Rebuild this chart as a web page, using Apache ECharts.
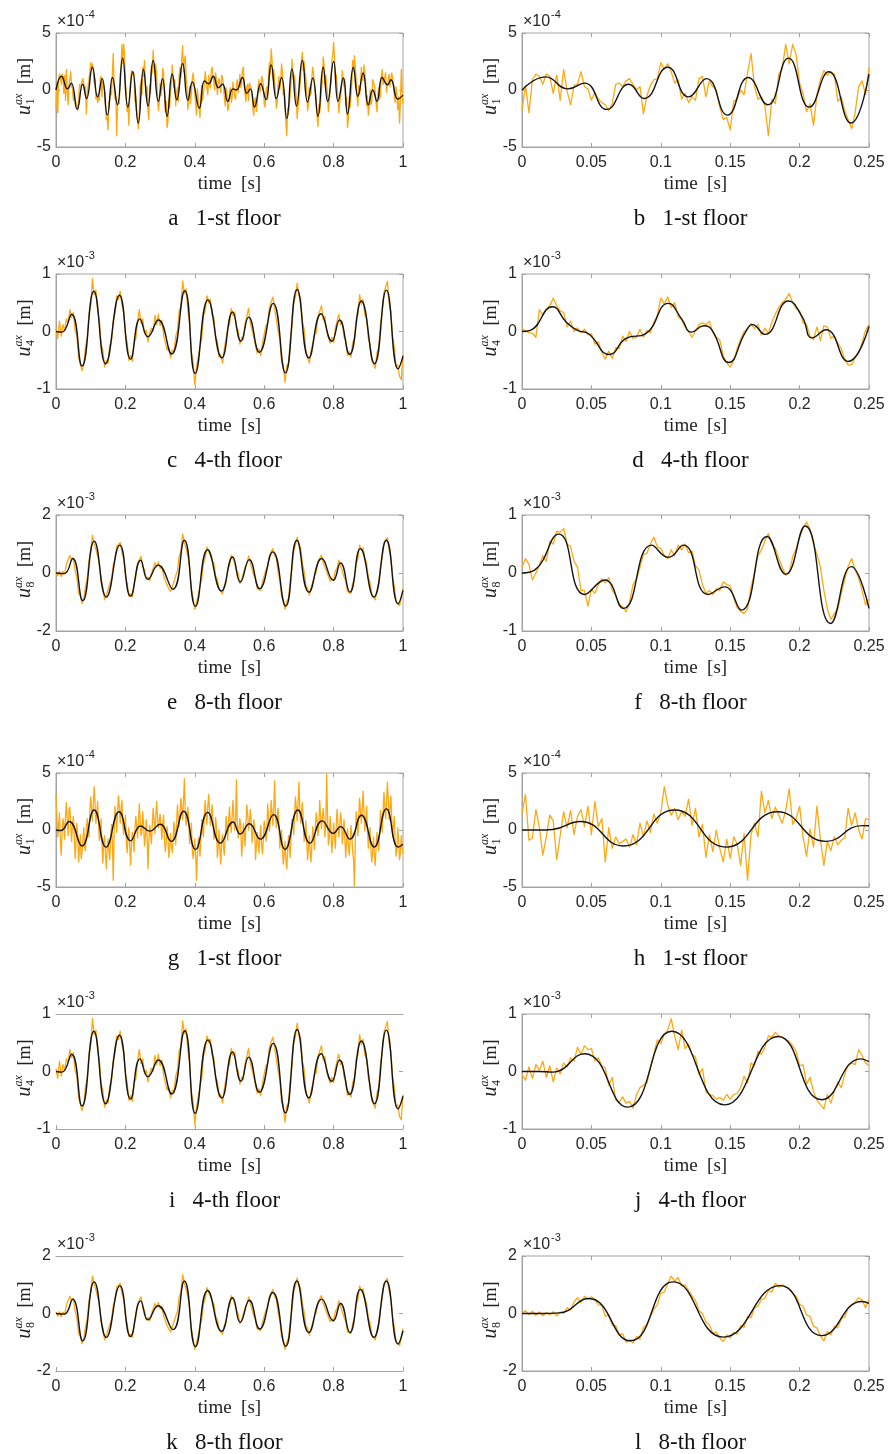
<!DOCTYPE html>
<html>
<head>
<meta charset="utf-8">
<script src="https://cdn.jsdelivr.net/npm/echarts@6.0.0/dist/echarts.min.js"></script>
<style>
  html, body { margin: 0; padding: 0; background: #ffffff; }
  #chart { width: 889px; height: 1454px; }
</style>
</head>
<body>
<div id="chart"></div>
<script>
// Sampling steps of the recorded (orange) signals, in seconds
const DT_FINE = 0.0025;
const DT_COARSE = 0.005;

// ---- Panel a: 1st floor, 1 s (units of 1e-4 m), step DT_FINE ----
const aRaw = [
  -1.8, 0.4, -2.0, 0.9, 1.4, 1.2, 0.5, 1.4, 1.2, -0.3,
  1.3, -0.9, 1.8, -0.1, -1.3, 0.4, 0.5, 1.6, 0.3, 0.1,
  -0.9, -0.2, -0.8, -1.1, -1.3, -1.8, -1.2, 0.5, 0.6, 0.3,
  0.8, 1.0, 0.5, 0.0, 0.3, -2.1, -0.5, 0.4, 0.9, 1.0,
  2.4, 1.8, 2.3, 1.6, 0.6, 0.9, -0.8, -0.3, -1.1, -0.6,
  -0.9, 1.0, 1.2, -0.6, 0.8, 0.3, 0.0, -1.5, -2.6, -2.4,
  -3.5, -1.0, -0.8, 0.0, -0.4, 1.5, 3.2, 0.3, -0.8, -0.6,
  -4.0, -1.4, -0.8, -1.2, 1.4, 1.9, 4.0, 2.3, 4.0, 3.1,
  0.6, -0.3, -1.9, -1.2, -3.1, -0.4, 0.9, 1.7, 1.3, 1.6,
  1.4, -1.0, -0.6, -1.8, -2.6, -3.4, -2.0, 0.3, 0.8, -0.4,
  2.0, 1.2, 2.6, 0.7, -0.5, 0.3, -1.9, -2.6, 0.4, -0.3,
  2.1, 1.5, 3.5, 2.0, 1.4, 2.3, 1.2, -0.6, -1.8, -1.2,
  0.6, -0.5, 0.2, 1.9, 1.5, -0.4, -1.9, -1.0, -3.3, -2.8,
  -0.8, -1.6, -0.2, 0.6, 2.2, 1.0, 0.2, 0.9, -1.4, -0.2,
  0.2, -1.0, 1.3, 2.0, 1.1, 2.8, 3.9, 1.6, 2.6, 3.0,
  1.2, 0.2, -1.7, -1.0, 0.3, -1.2, -0.4, 0.9, 1.5, 0.8,
  -0.3, -1.3, -2.2, 0.1, -1.0, -1.4, -2.4, -0.6, 0.4, -0.9,
  -0.3, 0.5, 1.6, 0.9, 0.1, -0.4, 1.3, 0.5, 0.2, 1.7,
  2.0, 1.2, 0.6, 0.0, 1.5, 0.9, -0.4, 0.8, 1.0, 0.3,
  -0.2, 1.3, 1.1, 0.5, -0.6, -1.4, 0.2, -0.2, -1.8, -1.6,
  -0.2, 0.2, -1.1, -0.7, 0.7, 0.6, -0.6, -0.8, 0.5, 0.9,
  -0.2, 0.4, 1.4, 0.2, 0.6, 1.8, 2.0, 0.3, -0.4, -1.0,
  0.3, 0.5, -0.9, 0.6, 0.7, 0.2, -0.3, -1.6, -2.2, -0.9,
  -0.7, -1.9, -1.3, 0.3, 0.9, -0.2, 0.1, 1.2, 1.0, 0.4,
  -1.2, -1.5, -0.2, 0.3, -0.8, 1.2, 2.4, 1.4, 3.6, 2.7,
  1.0, 1.8, 0.8, -0.2, -1.6, -1.0, 0.4, 1.2, 0.1, 0.8,
  2.3, 1.6, -0.4, 0.0, -1.0, -2.9, -4.0, -1.6, -2.2, -1.3,
  -0.3, 0.6, 2.7, 1.5, 0.7, 1.3, 0.2, -0.7, -2.5, -1.6,
  -0.9, 0.2, 1.0, 2.6, 3.3, 1.7, 2.5, 1.5, 1.1, -0.2,
  -1.8, -1.3, 0.2, -0.5, -0.3, 1.2, 2.0, 1.3, 0.5, -0.3,
  -0.9, -2.4, -3.2, -1.3, -2.0, -1.1, 0.1, 0.8, 2.9, 2.2,
  0.5, 1.3, 0.4, -0.4, -1.9, -1.0, -0.2, 0.8, 2.6, 3.1,
  4.2, 2.8, 0.9, 1.4, 0.5, -0.8, -2.0, -1.2, -0.6, 0.2,
  1.7, 0.9, 0.3, 1.0, -1.4, -0.7, -3.3, -2.6, -0.6, -1.5,
  -0.5, 0.6, 2.6, 1.6, 3.0, 2.0, 0.9, -0.6, -1.4, 0.4,
  -0.4, 0.1, 2.0, 1.0, 0.8, 2.2, 1.5, 0.6, -1.4, -0.5,
  -2.2, -1.6, 0.0, -1.3, -1.1, 0.9, 0.8, 0.4, -0.2, -1.2,
  -1.9, -0.4, 0.2, -0.8, -0.5, 1.2, 1.8, 0.5, 0.4, 1.1,
  1.5, -0.2, -0.3, 0.9, 1.4, 0.3, 0.4, 1.5, 1.6, 0.6,
  -0.5, -1.1, 0.3, -0.4, -1.7, -0.6, -2.9, -1.3, 1.8, -0.2,
  -1.2
];
const aFitT = [0, 0.016, 0.033, 0.044, 0.061, 0.077, 0.088, 0.105, 0.12, 0.133,
  0.148, 0.163, 0.177, 0.192, 0.207, 0.221, 0.237, 0.252, 0.265, 0.28,
  0.295, 0.307, 0.32, 0.335, 0.348, 0.365, 0.38, 0.393, 0.413, 0.428,
  0.44, 0.453, 0.468, 0.48, 0.495, 0.51, 0.52, 0.537, 0.55, 0.56,
  0.572, 0.59, 0.605, 0.62, 0.635, 0.65, 0.665, 0.68, 0.693, 0.71,
  0.725, 0.74, 0.755, 0.77, 0.783, 0.8, 0.813, 0.828, 0.84, 0.857,
  0.87, 0.885, 0.9, 0.913, 0.925, 0.94, 0.955, 0.965, 0.985, 1.0];
const aFitV = [0, 1.2, 0.1, 0.6, -1.7, 0.5, -0.75, 2.0, -0.6, 1.0,
  -2.2, 1.1, -1.3, 2.8, -1.5, 1.6, -2.9, 1.8, -1.4, 2.6,
  -1.0, 1.0, -2.3, 1.4, -0.85, 2.3, -0.9, 0.7, -1.6, 0.8,
  0.55, 1.2, 0.2, 0.5, -1.0, 0.1, 0.0, 1.1, -0.3, 0.1,
  -1.5, 0.55, -0.85, 2.2, -0.75, 1.1, -2.5, 1.85, -1.4, 2.6,
  -1.05, 1.05, -2.3, 2.0, -1.0, 2.5, -1.0, 1.05, -2.1, 2.0,
  -0.55, 1.5, -1.3, 0.0, -1.0, 1.1, 0.45, 0.9, -0.8, -0.45];

// ---- Panel b: 1st floor, first 0.25 s (units of 1e-4 m), step DT_FINE ----
const bRaw = [
  -1.8, 0.4, -2.0, 0.9, 1.4, 1.2, 0.5, 1.4, 1.2, -0.3,
  1.3, -0.9, 1.8, -0.1, -1.3, 0.4, 0.5, 1.6, 0.3, 0.1,
  -0.9, -0.2, -0.8, -1.1, -1.3, -1.8, -1.2, 0.5, 0.6, 0.3,
  0.8, 1.0, 0.5, 0.0, 0.3, -2.1, -0.5, 0.4, 0.9, 1.0,
  2.4, 1.8, 2.3, 1.6, 0.6, 0.9, -0.8, -0.3, -1.1, -0.6,
  -0.9, 1.0, 1.2, -0.6, 0.8, 0.3, 0.0, -1.5, -2.6, -2.4,
  -3.5, -1.0, -0.8, 0.0, -0.4, 1.5, 3.2, 0.3, -0.8, -0.6,
  -1.4, -4.0, -0.8, -1.2, 1.4, 1.9, 4.0, 2.3, 4.0, 3.1,
  0.6, -0.3, -1.9, -1.2, -3.1, -0.4, 0.9, 1.7, 1.3, 1.6,
  1.4, -1.0, -0.6, -1.8, -2.6, -3.4, -2.0, 0.3, 0.8, -0.4,
  2.0
];
const bFitT = [0, 0.017, 0.033, 0.045, 0.061, 0.077, 0.088, 0.105, 0.12, 0.133,
  0.148, 0.163, 0.177, 0.192, 0.207, 0.221, 0.237, 0.25];
const bFitV = [0, 1.15, 0.1, 0.6, -1.7, 0.5, -0.75, 2.0, -0.6, 1.0,
  -2.2, 1.1, -1.3, 2.8, -1.5, 1.6, -2.9, 1.4];

// ---- Panels c and i: 4th floor, 1 s (units of 1e-3 m), step DT_COARSE ----
const cRaw = [
  0.05, -0.12, 0.18, -0.08, 0.12, 0.02, 0.22, 0.16, 0.38, 0.24,
  0.33, 0.02, -0.08, -0.45, -0.48, -0.68, -0.58, -0.26, -0.12, 0.31,
  0.44, 0.92, 0.64, 0.72, 0.36, 0.2, -0.22, -0.33, -0.62, -0.5,
  -0.55, -0.24, -0.16, 0.2, 0.3, 0.62, 0.56, 0.7, 0.46, 0.36,
  -0.04, -0.18, -0.5, -0.42, -0.52, -0.2, -0.13, 0.18, 0.38, 0.14,
  0.22, -0.04, 0.02, -0.18, -0.02, 0.06, 0.0, 0.28, 0.12, 0.3,
  0.1, 0.2, -0.06, -0.05, -0.32, -0.27, -0.46, -0.32, -0.36, -0.08,
  0.02, 0.36, 0.44, 0.88, 0.66, 0.74, 0.36, 0.14, -0.36, -0.52,
  -0.93, -0.62, -0.64, -0.26, -0.13, 0.27, 0.36, 0.62, 0.5, 0.56,
  0.28, 0.24, -0.1, -0.16, -0.44, -0.4, -0.55, -0.3, -0.27, 0.06,
  0.12, 0.4, 0.28, 0.34, 0.06, 0.02, -0.22, -0.1, -0.14, 0.14,
  0.16, 0.4, 0.15, 0.17, -0.1, -0.13, -0.38, -0.3, -0.42, -0.2,
  -0.19, 0.1, 0.14, 0.42, 0.39, 0.6, 0.4, 0.37, 0.01, -0.14,
  -0.52, -0.58, -0.88, -0.6, -0.56, -0.14, 0.08, 0.5, 0.6, 0.84,
  0.62, 0.58, 0.18, 0.04, -0.34, -0.36, -0.55, -0.34, -0.36, -0.06,
  -0.02, 0.26, 0.24, 0.45, 0.2, 0.26, 0.0, 0.01, -0.2, -0.1,
  -0.19, 0.06, 0.08, 0.3, 0.12, 0.17, -0.1, -0.15, -0.42, -0.35,
  -0.45, -0.19, -0.12, 0.22, 0.29, 0.64, 0.47, 0.56, 0.29, 0.23,
  -0.12, -0.22, -0.51, -0.48, -0.64, -0.37, -0.28, 0.14, 0.31, 0.68,
  0.66, 0.87, 0.48, 0.36, -0.09, -0.27, -0.62, -0.58, -0.78, -0.84,
  -0.4
];
const cFitT = [0, 0.017, 0.045, 0.075, 0.109, 0.143, 0.183, 0.215, 0.242, 0.265,
  0.295, 0.333, 0.371, 0.401, 0.438, 0.478, 0.509, 0.533, 0.555, 0.586,
  0.626, 0.661, 0.695, 0.729, 0.764, 0.795, 0.817, 0.846, 0.88, 0.918,
  0.952, 0.986, 1.0];
const cFitV = [0, -0.01, 0.3, -0.6, 0.7, -0.56, 0.63, -0.48, 0.22, -0.09,
  0.2, -0.39, 0.71, -0.73, 0.55, -0.46, 0.34, -0.17, 0.25, -0.36,
  0.49, -0.72, 0.73, -0.46, 0.31, -0.17, 0.2, -0.4, 0.53, -0.56,
  0.72, -0.65, -0.43];

// ---- Panel d: 4th floor, 0.25 s (units of 1e-3 m), step DT_FINE ----
const dRaw = [
  0.05, 0.01, -0.02, -0.03, -0.1, 0.38, 0.28, 0.38, 0.45, 0.58,
  0.45, 0.36, 0.33, 0.08, 0.18, 0.0, 0.06, -0.02, 0.04, -0.06,
  -0.04, -0.22, -0.18, -0.36, -0.48, -0.34, -0.47, -0.28, -0.3, -0.08,
  -0.17, 0.0, -0.12, -0.1, 0.04, -0.1, 0.02, -0.02, 0.16, 0.28,
  0.58, 0.48, 0.6, 0.42, 0.5, 0.26, 0.2, 0.08, 0.0, -0.1,
  0.0, 0.12, 0.15, 0.12, 0.18, -0.02, -0.1, -0.15, -0.42, -0.55,
  -0.62, -0.5, -0.3, -0.14, 0.0, 0.04, 0.14, 0.05, 0.12, -0.06,
  0.06, -0.04, 0.16, 0.3, 0.42, 0.5, 0.56, 0.66, 0.5, 0.4,
  0.36, 0.15, 0.12, -0.08, -0.14, 0.08, -0.16, 0.1, 0.08, -0.12,
  -0.08, -0.2, -0.3, -0.48, -0.58, -0.58, -0.45, -0.38, -0.2, 0.02,
  0.12
];
const dFitT = [0, 0.006, 0.022, 0.032, 0.04, 0.048, 0.063, 0.075, 0.089, 0.1055,
  0.115, 0.122, 0.131, 0.137, 0.149, 0.161, 0.166, 0.175, 0.192, 0.202,
  0.209, 0.219, 0.235, 0.25];
const dFitV = [0, 0.02, 0.43, 0.16, 0.02, -0.04, -0.4, -0.12, -0.04, 0.49,
  0.22, -0.01, 0.1, 0.02, -0.54, -0.01, 0.12, -0.05, 0.53, 0.25,
  -0.11, 0.03, -0.52, 0.09];

// ---- Panels e and k: 8th floor, 1 s (units of 1e-3 m), step DT_COARSE ----
const eRaw = [
  0.05, -0.1, 0.06, -0.12, 0.05, -0.02, 0.3, 0.28, 0.6, 0.44,
  0.52, 0.08, -0.15, -0.68, -0.78, -1.05, -0.9, -0.46, -0.18, 0.44,
  0.7, 1.3, 1.04, 1.08, 0.58, 0.3, -0.3, -0.5, -0.92, -0.76,
  -0.8, -0.38, -0.2, 0.28, 0.46, 0.92, 0.88, 1.05, 0.7, 0.5,
  -0.08, -0.34, -0.8, -0.72, -0.82, -0.36, -0.14, 0.33, 0.36, 0.58,
  0.2, 0.12, -0.22, -0.14, -0.26, -0.02, -0.04, 0.35, 0.2, 0.38,
  0.16, 0.24, -0.08, -0.1, -0.42, -0.4, -0.64, -0.48, -0.5, -0.1,
  0.08, 0.58, 0.74, 1.35, 1.06, 1.12, 0.6, 0.2, -0.54, -0.86,
  -1.25, -1.02, -0.96, -0.46, -0.2, 0.34, 0.52, 0.9, 0.74, 0.8,
  0.44, 0.33, -0.1, -0.2, -0.56, -0.54, -0.72, -0.42, -0.32, 0.12,
  0.26, 0.62, 0.5, 0.5, 0.12, -0.02, -0.36, -0.22, -0.2, 0.2,
  0.32, 0.58, 0.34, 0.3, -0.08, -0.18, -0.54, -0.48, -0.6, -0.32,
  -0.26, 0.12, 0.22, 0.6, 0.6, 0.84, 0.6, 0.52, 0.02, -0.26,
  -0.8, -0.94, -1.25, -1.0, -0.86, -0.25, 0.14, 0.76, 0.95, 1.24,
  0.98, 0.86, 0.34, 0.06, -0.44, -0.52, -0.76, -0.52, -0.48, -0.08,
  0.04, 0.4, 0.42, 0.62, 0.36, 0.36, 0.04, 0.0, -0.28, -0.18,
  -0.26, 0.08, 0.16, 0.44, 0.26, 0.26, -0.14, -0.27, -0.64, -0.58,
  -0.7, -0.35, -0.2, 0.3, 0.48, 0.96, 0.78, 0.86, 0.5, 0.36,
  -0.14, -0.32, -0.74, -0.74, -0.92, -0.58, -0.36, 0.22, 0.52, 1.04,
  1.05, 1.22, 0.78, 0.52, -0.14, -0.46, -0.98, -1.0, -1.12, -0.86,
  -0.52
];
const eFitT = [0, 0.024, 0.048, 0.077, 0.11, 0.145, 0.184, 0.215, 0.244, 0.265,
  0.294, 0.337, 0.37, 0.402, 0.437, 0.477, 0.509, 0.531, 0.557, 0.587,
  0.625, 0.662, 0.694, 0.729, 0.766, 0.799, 0.82, 0.847, 0.877, 0.916,
  0.952, 0.986, 1.0];
const eFitV = [0, -0.02, 0.5, -0.95, 1.1, -0.83, 0.96, -0.8, 0.44, -0.22,
  0.27, -0.56, 1.13, -1.15, 0.8, -0.62, 0.55, -0.31, 0.46, -0.54,
  0.73, -1.14, 1.13, -0.66, 0.5, -0.25, 0.35, -0.66, 0.84, -0.83,
  1.13, -1.06, -0.6];

// ---- Panel f: 8th floor, 0.25 s (units of 1e-3 m), step DT_FINE ----
const fRaw = [
  0.1, 0.25, 0.15, -0.12, 0.0, 0.12, 0.3, 0.2, 0.55, 0.5,
  0.72, 0.7, 0.77, 0.5, 0.45, 0.2, 0.1, -0.3, -0.3, -0.57,
  -0.28, -0.35, -0.2, -0.1, -0.17, -0.08, -0.3, -0.38, -0.55, -0.58,
  -0.67, -0.5, -0.2, -0.1, 0.1, 0.32, 0.34, 0.5, 0.62, 0.45,
  0.42, 0.3, 0.25, 0.4, 0.3, 0.48, 0.4, 0.5, 0.35, 0.38,
  0.12, 0.05, -0.2, -0.35, -0.3, -0.37, -0.27, -0.3, -0.15, -0.2,
  -0.22, -0.42, -0.6, -0.66, -0.7, -0.62, -0.25, 0.0, 0.3, 0.4,
  0.55, 0.68, 0.5, 0.42, 0.25, 0.1, -0.04, 0.0, 0.28, 0.42,
  0.62, 0.78, 0.88, 0.75, 0.5, 0.32, 0.1, -0.3, -0.62, -0.8,
  -0.7, -0.62, -0.35, -0.12, 0.12, 0.25, 0.05, -0.08, -0.3, -0.55,
  -0.45
];
const fFitT = [0, 0.009, 0.0265, 0.045, 0.0597, 0.073, 0.0934, 0.1055, 0.1163, 0.134,
  0.146, 0.158, 0.1765, 0.19, 0.204, 0.2223, 0.2372, 0.25];
const fFitV = [0, 0.05, 0.67, -0.37, -0.12, -0.61, 0.48, 0.27, 0.48, -0.37,
  -0.24, -0.64, 0.63, -0.02, 0.81, -0.87, 0.11, -0.61];

// ---- Panel g: 1st floor, 1 s (units of 1e-4 m), step DT_FINE ----
const gRaw = [
  3.1, 1.2, -0.6, 0.4, 1.5, -0.9, -2.2, -0.3, 1.0, 0.5,
  -0.8, 1.3, 2.4, 0.9, -0.5, 1.8, 2.0, 0.3, -1.0, 0.5,
  1.2, -0.5, -2.5, -1.2, 0.6, -0.4, -2.8, -1.6, -0.4, -2.5,
  -2.0, -0.9, 0.2, -1.5, -1.8, 0.2, 1.0, -0.2, -0.6, 1.6,
  2.9, 1.9, 0.8, 2.2, 3.8, 2.4, 0.6, 1.5, 2.5, 0.6,
  -0.9, -0.5, 1.0, -1.3, -2.9, -1.0, -0.5, -2.1, -3.4, -1.6,
  -0.8, -1.9, -2.6, -0.8, 0.5, -1.1, -4.4, -0.4, 2.1, 1.0,
  -0.2, 1.7, 3.0, 2.0, 0.6, 1.9, 2.6, 0.4, -0.4, 0.5,
  1.3, -0.9, -2.0, -0.6, 0.2, -1.5, -3.1, -1.2, -0.2, -0.8,
  -1.9, 0.1, 1.2, 0.3, -0.7, 0.6, 2.3, 1.0, -0.5, -0.2,
  1.6, 0.5, -1.4, -0.6, 0.9, -0.3, -3.4, -1.1, 0.4, -0.4,
  -1.2, 0.5, 1.9, 0.9, -0.3, -0.2, 2.5, 1.1, 0.2, 0.8,
  1.4, 0.4, -0.8, 0.5, 1.3, -0.6, -1.9, -1.1, 0.3, -0.5,
  -2.4, -1.7, -0.3, -1.3, -2.0, -0.9, 0.7, -0.2, -1.3, 0.6,
  2.2, 0.9, 0.3, 1.6, 2.8, 1.9, 0.9, 2.6, 4.5, 1.7,
  0.4, 1.4, 2.0, 0.9, -1.2, -0.4, 0.6, -1.6, -2.5, -1.9,
  -0.8, -2.3, -4.4, -2.0, -0.7, -1.6, -2.3, -0.9, 0.9, -0.1,
  -0.6, 1.4, 2.6, 1.2, 0.5, 2.1, 3.1, 1.8, 0.4, 1.3,
  2.2, 0.9, -0.8, -0.4, 1.1, 0.3, -2.4, -1.5, 0.0, -1.8,
  -3.0, -0.9, -0.4, -1.4, -2.2, -0.7, 1.2, 0.4, -0.9, 0.9,
  2.0, 0.5, -0.2, 1.2, 2.6, 1.0, 0.0, 0.8, 4.4, 0.6,
  -0.7, -0.8, 1.0, 0.2, -2.3, -1.2, 0.6, -0.3, -1.4, 0.7,
  2.2, 1.3, 0.0, 0.6, 1.8, 0.8, -1.1, -0.2, 0.9, 0.3,
  -2.6, -1.4, -0.2, -1.1, -2.0, -0.6, 0.4, -1.3, -2.1, -0.8,
  0.8, 0.2, -1.0, -0.3, 2.3, 1.1, -0.1, 0.7, 2.6, 1.6,
  0.4, 1.9, 4.3, 1.3, 0.2, 1.2, 1.9, 0.5, -1.6, -0.7,
  0.0, -1.6, -3.0, -2.2, -1.0, -2.6, -3.4, -1.9, -0.5, -1.5,
  -2.4, -0.6, 0.9, 0.4, -0.4, 1.4, 2.9, 2.0, 0.8, 2.4,
  4.2, 1.9, 0.6, 1.6, 2.4, 0.9, -1.0, -0.4, 0.8, -0.9,
  -2.6, -1.5, -0.5, -1.9, -2.8, -1.2, 0.3, -0.8, -1.7, 0.3,
  1.5, 0.8, -0.5, 0.4, 2.6, 1.2, 0.1, 1.0, 1.9, 0.9,
  -0.6, 0.5, 4.9, 1.2, -1.3, -0.6, 1.2, -0.2, -2.0, -0.9,
  0.6, -0.5, -1.6, 0.4, 1.8, 0.6, -0.6, 0.1, 1.5, 0.9,
  -1.2, -0.3, 0.9, -0.8, -2.4, -1.0, 0.1, -1.3, -2.2, -1.1,
  0.4, -0.4, -1.9, -2.6, -4.9, -1.0, 1.6, 0.6, -0.5, 1.4,
  2.8, 1.6, 0.6, 1.9, 3.4, 1.5, -0.1, 0.9, 2.1, 0.4,
  -1.6, -0.9, 0.2, -1.6, -2.8, -1.9, -0.6, -2.2, -3.1, -1.4,
  -0.2, -1.1, -1.8, -0.4, 1.7, 0.9, -0.2, 1.5, 3.3, 2.1,
  1.0, 2.4, 4.2, 2.6, 0.9, 1.9, 3.0, 1.1, -0.6, 0.4,
  1.2, -1.1, -2.3, -1.7, 0.2, -1.0, -2.6, -2.0, -0.5, -1.6,
  -2.1
];
const gFitT = [0, 0.014, 0.038, 0.075, 0.11, 0.144, 0.182, 0.215, 0.244, 0.27,
  0.3, 0.332, 0.368, 0.402, 0.437, 0.474, 0.51, 0.531, 0.557, 0.589,
  0.627, 0.66, 0.697, 0.732, 0.767, 0.799, 0.82, 0.847, 0.88, 0.917,
  0.952, 0.986, 1.0];
const gFitV = [0, -0.05, 0.75, -1.4, 1.75, -1.5, 1.6, -0.95, 0.35, -0.1,
  0.5, -1.0, 1.65, -1.7, 1.55, -1.15, 0.7, -0.35, 0.55, -0.8,
  1.35, -1.7, 1.75, -1.15, 0.8, -0.3, 0.3, -0.8, 1.3, -1.5,
  1.85, -1.5, -1.25];

// ---- Panel h: 1st floor, 0.25 s (units of 1e-4 m), step DT_FINE ----
const hRaw = [
  1.5, 3.1, -0.9, -0.7, 1.8, 0.2, -2.2, -0.6, 1.3, 0.8,
  -2.6, -0.5, 1.6, 0.2, 1.7, -0.4, 1.2, 1.8, 0.3, 2.1,
  -0.4, 2.5, 0.3, 1.0, -2.8, 0.2, -1.6, -0.6, -1.2, -1.0,
  -0.8, -1.5, -0.4, -1.3, 0.6, -0.6, 0.8, -0.2, 1.4, 0.6,
  1.5, 3.8, 2.2, 1.3, 1.9, 0.9, 1.6, 1.2, 2.7, 0.4,
  1.9, -0.6, 0.5, -2.4, -0.4, -1.9, 0.0, -1.6, -2.8, -0.8,
  -2.5, -0.6, -1.2, -3.1, -0.3, -4.4, -0.4, 0.6, -0.6, 3.4,
  1.5, 2.6, 1.0, 2.0, 1.3, 0.6, 1.7, 3.6, 0.5, 1.0,
  2.1, -0.6, -2.3, 0.1, -1.5, 2.1, -0.8, -3.1, -1.0, -1.8,
  -0.6, -1.3, -0.9, -0.7, 1.9, 0.4, 1.5, 0.0, -0.8, 1.0,
  0.9
];
const hFitT = [0, 0.012, 0.022, 0.042, 0.073, 0.11, 0.147, 0.184, 0.219, 0.245, 0.25];
const hFitV = [0, 0, 0.05, 0.75, -1.4, 1.75, -1.5, 1.6, -1.0, 0.38, 0.37];

// ---- Panel j: 4th floor, 0.25 s (units of 1e-3 m), step DT_FINE ----
const jRaw = [
  -0.05, -0.15, 0.08, -0.12, 0.12, 0.02, 0.18, -0.1, 0.1, -0.18,
  0.06, -0.04, 0.15, 0.08, 0.24, 0.18, 0.42, 0.3, 0.45, 0.38,
  0.4, 0.18, 0.24, 0.1, 0.06, -0.24, -0.1, -0.5, -0.54, -0.44,
  -0.55, -0.52, -0.64, -0.4, -0.28, -0.24, -0.2, 0.05, 0.3, 0.55,
  0.48, 0.65, 0.72, 0.92, 0.62, 0.38, 0.72, 0.4, 0.48, 0.3,
  0.25, -0.05, 0.05, -0.35, -0.4, -0.42, -0.48, -0.45, -0.5, -0.4,
  -0.48, -0.4, -0.38, -0.28, -0.08, -0.2, 0.15, 0.1, 0.35, 0.3,
  0.42, 0.62, 0.6, 0.68, 0.62, 0.6, 0.55, 0.52, 0.45, 0.35,
  0.1, 0.12, -0.22, -0.1, -0.35, -0.5, -0.58, -0.65, -0.4, -0.55,
  -0.35, -0.18, -0.28, -0.05, 0.12, 0.15, 0.12, 0.38, 0.28, 0.15,
  0.1
];
const jFitT = [0, 0.012, 0.022, 0.045, 0.076, 0.108, 0.146, 0.1845, 0.216, 0.244, 0.25];
const jFitV = [0, 0, -0.01, 0.31, -0.62, 0.7, -0.58, 0.61, -0.49, 0.22, 0.17];

// ---- Panel l: 8th floor, 0.25 s (units of 1e-3 m), step DT_FINE ----
const lRaw = [
  0.02, 0.1, -0.04, 0.08, -0.06, 0.05, -0.08, 0.04, -0.04, 0.06,
  -0.08, 0.05, 0.0, 0.2, 0.12, 0.4, 0.55, 0.38, 0.6, 0.5,
  0.58, 0.5, 0.3, 0.28, -0.1, -0.05, -0.4, -0.42, -0.75, -0.7,
  -1.0, -0.92, -1.02, -0.8, -0.9, -0.48, -0.4, -0.1, 0.15, 0.3,
  0.7, 0.75, 1.05, 1.3, 1.12, 1.25, 0.95, 1.0, 0.8, 0.62,
  0.45, 0.1, 0.0, -0.3, -0.38, -0.7, -0.65, -0.85, -0.98, -0.75,
  -0.85, -0.65, -0.72, -0.42, -0.48, -0.1, -0.15, 0.2, 0.25, 0.5,
  0.52, 0.8, 0.75, 1.05, 0.92, 1.0, 0.92, 0.88, 0.7, 0.6,
  0.32, 0.25, -0.05, -0.1, -0.45, -0.5, -0.78, -0.95, -0.62, -0.75,
  -0.45, -0.5, -0.18, -0.12, 0.2, 0.3, 0.4, 0.55, 0.48, 0.2,
  0.5
];
const lFitT = [0, 0.015, 0.027, 0.048, 0.078, 0.109, 0.145, 0.186, 0.216, 0.245, 0.25];
const lFitV = [0, 0, 0.02, 0.52, -0.95, 1.1, -0.82, 0.97, -0.77, 0.42, 0.35];

// Panel descriptions: tag, caption, data, time span, symmetric y limit, exponent, floor index
const PANELS = [
  { tag: 'a', floor: '1-st floor', raw: aRaw, dt: DT_FINE,   fitT: aFitT, fitV: aFitV, span: 1,    lim: 5, exp: '-4', sub: '1' },
  { tag: 'b', floor: '1-st floor', raw: bRaw, dt: DT_FINE,   fitT: bFitT, fitV: bFitV, span: 0.25, lim: 5, exp: '-4', sub: '1' },
  { tag: 'c', floor: '4-th floor', raw: cRaw, dt: DT_COARSE, fitT: cFitT, fitV: cFitV, span: 1,    lim: 1, exp: '-3', sub: '4' },
  { tag: 'd', floor: '4-th floor', raw: dRaw, dt: DT_FINE,   fitT: dFitT, fitV: dFitV, span: 0.25, lim: 1, exp: '-3', sub: '4' },
  { tag: 'e', floor: '8-th floor', raw: eRaw, dt: DT_COARSE, fitT: eFitT, fitV: eFitV, span: 1,    lim: 2, exp: '-3', sub: '8' },
  { tag: 'f', floor: '8-th floor', raw: fRaw, dt: DT_FINE,   fitT: fFitT, fitV: fFitV, span: 0.25, lim: 1, exp: '-3', sub: '8' },
  { tag: 'g', floor: '1-st floor', raw: gRaw, dt: DT_FINE,   fitT: gFitT, fitV: gFitV, span: 1,    lim: 5, exp: '-4', sub: '1' },
  { tag: 'h', floor: '1-st floor', raw: hRaw, dt: DT_FINE,   fitT: hFitT, fitV: hFitV, span: 0.25, lim: 5, exp: '-4', sub: '1' },
  { tag: 'i', floor: '4-th floor', raw: cRaw, dt: DT_COARSE, fitT: cFitT, fitV: cFitV, span: 1,    lim: 1, exp: '-3', sub: '4', open: true },
  { tag: 'j', floor: '4-th floor', raw: jRaw, dt: DT_FINE,   fitT: jFitT, fitV: jFitV, span: 0.25, lim: 1, exp: '-3', sub: '4' },
  { tag: 'k', floor: '8-th floor', raw: eRaw, dt: DT_COARSE, fitT: eFitT, fitV: eFitV, span: 1,    lim: 2, exp: '-3', sub: '8', open: true },
  { tag: 'l', floor: '8-th floor', raw: lRaw, dt: DT_FINE,   fitT: lFitT, fitV: lFitV, span: 0.25, lim: 2, exp: '-3', sub: '8' }
];

// ---- layout ----
const COL_LEFT = [56, 522];
const COL_W = [347, 347];
const ROW_TOP = [33, 274, 515, 773, 1014, 1256];
const ROW_H = [114, 115, 116, 114, 115, 115];

const BOX = '#a3a3a3';
const TICK_TXT = '#262626';
const ORANGE = '#FFA812';
const SANS = '"Liberation Sans", Arial, Helvetica, sans-serif';
const SERIF = '"Liberation Serif", "Times New Roman", serif';

const option = {
  animation: false,
  backgroundColor: '#ffffff',
  grid: [], xAxis: [], yAxis: [], series: [],
  graphic: { elements: [] }
};

function fmtTick(v) { return String(+v.toFixed(2)); }

PANELS.forEach((p, i) => {
  const col = i % 2, row = Math.floor(i / 2);
  const L = COL_LEFT[col], W = COL_W[col], T = ROW_TOP[row], H = ROW_H[row];
  const B = T + H, CX = L + W / 2;

  option.grid.push({
    left: L, top: T, width: W, height: H,
    show: !p.open, borderColor: BOX, borderWidth: 1, backgroundColor: 'transparent'
  });

  const xCommon = { gridIndex: i, type: 'value', min: 0, max: p.span, interval: p.span / 5, splitLine: { show: false } };
  option.xAxis.push(Object.assign({}, xCommon, {
    position: 'bottom',
    axisLine: { show: true, onZero: false, lineStyle: { color: BOX, width: 1 } },
    axisTick: { show: true, inside: true, length: 4, lineStyle: { color: BOX } },
    axisLabel: { show: true, margin: 8, color: TICK_TXT, fontSize: 16, fontFamily: SANS, formatter: fmtTick, showMinLabel: true, showMaxLabel: true }
  }));
  option.xAxis.push(Object.assign({}, xCommon, {
    position: 'top',
    axisLine: { show: !!p.open, onZero: false, lineStyle: { color: BOX, width: 1 } },
    axisTick: { show: !p.open, inside: true, length: 4, lineStyle: { color: BOX } },
    axisLabel: { show: false }
  }));

  const yCommon = { gridIndex: i, type: 'value', min: -p.lim, max: p.lim, interval: p.lim, splitLine: { show: false } };
  option.yAxis.push(Object.assign({}, yCommon, {
    position: 'left',
    axisLine: { show: !p.open, onZero: false, lineStyle: { color: BOX, width: 1 } },
    axisTick: { show: true, inside: true, length: 4, lineStyle: { color: BOX } },
    axisLabel: { show: true, margin: 5, color: TICK_TXT, fontSize: 16, fontFamily: SANS }
  }));
  option.yAxis.push(Object.assign({}, yCommon, {
    position: 'right',
    axisLine: { show: false, onZero: false },
    axisTick: { show: true, inside: true, length: 4, lineStyle: { color: BOX } },
    axisLabel: { show: false }
  }));

  // recorded response
  option.series.push({
    type: 'line', xAxisIndex: 2 * i, yAxisIndex: 2 * i,
    data: p.raw.map((v, k) => [k * p.dt, v]),
    symbol: 'none', clip: true, silent: true, z: 2,
    lineStyle: { color: ORANGE, width: 1.3, join: 'round' }
  });
  // identified model response
  option.series.push({
    type: 'line', xAxisIndex: 2 * i, yAxisIndex: 2 * i,
    data: p.fitT.map((t, k) => [t, p.fitV[k]]),
    symbol: 'none', smooth: 0.5, clip: true, silent: true, z: 3,
    lineStyle: { color: '#141414', width: 1.4 }
  });

  const g = option.graphic.elements;
  // exponent marker above the axes
  g.push({ type: 'text', x: L + 1, y: T - 11, style: { text: '\u00d710', fontSize: 16, fontFamily: SANS, fill: TICK_TXT, textAlign: 'left', textVerticalAlign: 'middle' } });
  g.push({ type: 'text', x: L + 29, y: T - 18, style: { text: p.exp, fontSize: 11, fontFamily: SANS, fill: TICK_TXT, textAlign: 'left', textVerticalAlign: 'middle' } });
  // vertical axis title  u_n^{ax} [m]
  g.push({
    type: 'group', x: L - 31, y: T + H / 2 - 2, rotation: Math.PI / 2,
    children: [
      { type: 'text', x: -27, y: 0, style: { text: 'u', fontSize: 20, fontStyle: 'italic', fontFamily: SERIF, fill: '#222', textAlign: 'left', textVerticalAlign: 'middle' } },
      { type: 'text', x: -17, y: -6, style: { text: 'ax', fontSize: 12, fontStyle: 'italic', fontFamily: SERIF, fill: '#222', textAlign: 'left', textVerticalAlign: 'middle' } },
      { type: 'text', x: -16.5, y: 6, style: { text: p.sub, fontSize: 12, fontFamily: SERIF, fill: '#222', textAlign: 'left', textVerticalAlign: 'middle' } },
      { type: 'text', x: 4, y: 0, style: { text: '[m]', fontSize: 18, fontFamily: SERIF, fill: '#222', textAlign: 'left', textVerticalAlign: 'middle' } }
    ]
  });
  // horizontal axis title and panel caption
  g.push({ type: 'text', x: CX, y: B + 37, style: { text: 'time  [s]', fontSize: 19, fontFamily: SERIF, fill: '#222', textAlign: 'center', textVerticalAlign: 'middle' } });
  g.push({ type: 'text', x: CX - 5, y: B + 72, style: { text: p.tag + '   ' + p.floor, fontSize: 23, fontFamily: SERIF, fill: '#111', textAlign: 'center', textVerticalAlign: 'middle' } });
});

const chart = echarts.init(document.getElementById('chart'), null, { renderer: 'canvas', width: 889, height: 1454 });
chart.setOption(option);
</script>
</body>
</html>
